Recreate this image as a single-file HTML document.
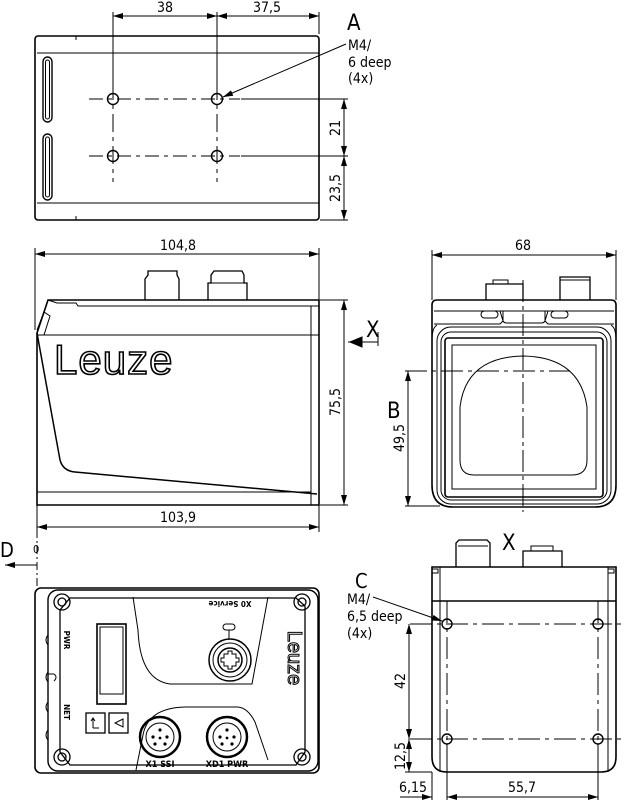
<!DOCTYPE html>
<html><head><meta charset="utf-8"><style>
html,body{margin:0;padding:0;background:#fff}
svg{display:block}
text{font-family:"DejaVu Sans Condensed","Liberation Sans",sans-serif}
</style></head><body>
<svg width="624" height="800" viewBox="0 0 624 800" xmlns="http://www.w3.org/2000/svg">
<defs>
<marker id="a" viewBox="0 0 10 6" refX="10" refY="3" markerWidth="10" markerHeight="6" orient="auto-start-reverse" markerUnits="userSpaceOnUse"><path d="M0,0 L10,3 L0,6 Z" fill="#000"/></marker>
</defs>
<g fill="none" stroke="#000" stroke-width="1">
<!-- TOP VIEW -->
<rect x="35" y="36" width="284" height="184" rx="3" stroke-width="1.6"/>
<line x1="37" y1="53" x2="319" y2="53"/>
<line x1="37" y1="203" x2="319" y2="203"/>
<line x1="76" y1="36" x2="76" y2="40"/><line x1="76" y1="216" x2="76" y2="220"/>
<rect x="43" y="57" width="9" height="65" rx="4.5" stroke-width="1.4"/>
<rect x="45.5" y="60" width="4" height="59" rx="2"/>
<rect x="43" y="134" width="9" height="66" rx="4.5" stroke-width="1.4"/>
<rect x="45.5" y="137" width="4" height="60" rx="2"/>
<g stroke-width="1.4">
<circle cx="113" cy="99" r="5.5"/><circle cx="217" cy="99" r="5.5"/>
<circle cx="113" cy="156" r="5.5"/><circle cx="217" cy="156" r="5.5"/>
</g>
<g stroke-dasharray="14,5,4,5">
<line x1="89" y1="99" x2="240" y2="99"/><line x1="89" y1="156" x2="240" y2="156"/>
</g>
<g stroke-dasharray="18,5,4,5"><line x1="113" y1="82" x2="113" y2="182"/><line x1="217" y1="82" x2="217" y2="182"/></g>
<line x1="113" y1="12" x2="113" y2="82"/><line x1="217" y1="12" x2="217" y2="82"/><line x1="319" y1="12" x2="319" y2="34"/>
<line x1="113" y1="16" x2="217" y2="16" marker-start="url(#a)" marker-end="url(#a)"/>
<line x1="217" y1="16" x2="319" y2="16" marker-start="url(#a)" marker-end="url(#a)"/>
<line x1="241" y1="99" x2="348" y2="99"/><line x1="241" y1="156" x2="348" y2="156"/><line x1="320" y1="220" x2="348" y2="220"/>
<line x1="344" y1="99" x2="344" y2="156" marker-start="url(#a)" marker-end="url(#a)"/>
<line x1="344" y1="156" x2="344" y2="220" marker-start="url(#a)" marker-end="url(#a)"/>
<line x1="346" y1="44" x2="223" y2="97" marker-end="url(#a)"/>

<!-- SIDE VIEW -->
<line x1="35" y1="248" x2="35" y2="330"/><line x1="319" y1="248" x2="319" y2="300"/>
<line x1="35" y1="254" x2="319" y2="254" marker-start="url(#a)" marker-end="url(#a)"/>
<path d="M145,300 V279 L148,275 V271 H177 V275 L179,279 V300" stroke-width="1.3"/>
<path d="M208,300 V283 H211 V275 L214,271 H242 L244,275 V283 H247 V300" stroke-width="1.3"/>
<line x1="211" y1="283" x2="244" y2="283"/>
<path d="M48,300 H319 V505 H37 V333 Z" stroke-width="1.6"/>
<path d="M48,300 L57,303 H76 L78,306 H319"/>
<line x1="37" y1="335" x2="319" y2="335"/>
<line x1="311" y1="306" x2="311" y2="505"/>
<line x1="37" y1="492" x2="311" y2="492"/>
<path d="M37,330 L44,312 L50,316 L44,335" />
<path d="M37,333 L60,460 Q63,471 75,472 L317,494" stroke-width="1.5"/>
<line x1="320" y1="300" x2="348" y2="300"/><line x1="320" y1="505" x2="348" y2="505"/>
<line x1="344" y1="300" x2="344" y2="505" marker-start="url(#a)" marker-end="url(#a)"/>
<line x1="319" y1="505" x2="319" y2="532"/><line x1="37" y1="505" x2="37" y2="532"/>
<line x1="37" y1="527" x2="319" y2="527" marker-start="url(#a)" marker-end="url(#a)"/>
<line x1="348" y1="342" x2="378" y2="342"/><line x1="378" y1="332" x2="378" y2="346"/>
<path d="M350,342 L362,337 L362,347 Z" fill="#000"/>

<!-- FRONT VIEW -->
<line x1="432" y1="250" x2="432" y2="300"/><line x1="616" y1="250" x2="616" y2="300"/>
<line x1="432" y1="255" x2="616" y2="255" marker-start="url(#a)" marker-end="url(#a)"/>
<path d="M486,300 V284 H523 V300" stroke-width="1.3"/>
<rect x="493" y="280" width="15" height="4"/>
<path d="M560,300 V277 H590 V300" stroke-width="1.3"/><line x1="560" y1="280" x2="590" y2="280"/>
<path d="M432,305 Q432,300 437,300 H611 Q616,300 616,305 V485 Q616,507 595,507 H453 Q432,507 432,485 Z" stroke-width="1.6"/>
<line x1="434" y1="311" x2="614" y2="311"/>
<path d="M437,325 Q432,328 432,340"/><path d="M611,325 Q616,328 616,340"/>
<path d="M434,324 H500 L503,321 V311"/><path d="M614,324 H548 L545,321 V311"/>
<path d="M500,311 L503,321 Q504,323 507,323 H541 Q544,323 545,321 L548,311"/>
<rect x="481" y="311" width="17" height="7" rx="3.5"/><rect x="551" y="311" width="17" height="7" rx="3.5"/>
<rect x="437" y="327" width="174" height="177" rx="14"/>
<rect x="441" y="332" width="166" height="168" rx="10"/>
<rect x="445" y="338" width="158" height="159" rx="3" stroke-width="1.6"/>
<rect x="452" y="345" width="144" height="144"/>
<path d="M460,407 Q466,357 523,356 Q580,357 587,407 V460 Q587,475 572,475 H474 Q460,475 460,460 Z"/>
<line x1="523" y1="280" x2="523" y2="512" stroke-dasharray="22,4,4,4"/>
<line x1="405" y1="371" x2="570" y2="371" stroke-dasharray="22,5,4,5"/>
<line x1="405" y1="506" x2="440" y2="506"/>
<line x1="408" y1="371" x2="408" y2="506" marker-start="url(#a)" marker-end="url(#a)"/>

<!-- BOTTOM LEFT VIEW -->
<line x1="37" y1="530" x2="37" y2="590" stroke-dasharray="8,3,2,3"/>
<line x1="37" y1="565" x2="5" y2="565" marker-end="url(#a)"/>
<rect x="35" y="588" width="284" height="185" rx="6" stroke-width="1.6"/>
<rect x="48" y="590" width="270" height="181" rx="10" stroke-width="1.4"/>
<path d="M70,598 H296 L305,606 V752 L296,765 H70 L60,752 V610 Z" stroke-width="1.3"/>
<path d="M133,597 L138,630 Q140,680 170,684 H252 L268,597"/>
<path d="M136,770 L143,735 Q148,708 185,707 H238 Q248,708 255,722 L268,760"/>
<g stroke-width="1.3">
<circle cx="62" cy="602" r="8"/><circle cx="62" cy="602" r="4"/>
<circle cx="302" cy="602" r="8"/><circle cx="302" cy="602" r="4"/>
<circle cx="62" cy="757" r="8"/><circle cx="62" cy="757" r="4"/>
<circle cx="302" cy="757" r="8"/><circle cx="302" cy="757" r="4"/>
</g>
<rect x="97" y="624" width="29" height="80" stroke-width="1.6"/><rect x="100" y="627" width="23" height="67"/>
<rect x="86" y="713" width="19" height="20" stroke-width="1.3"/><rect x="109" y="713" width="19" height="20" stroke-width="1.3"/>
<path d="M123,719 L115,723 L123,727 Z"/>
<path d="M93,728 V719 M91,721 L93,718 L95,721 M93,728 H99"/>
<circle cx="160" cy="737" r="20" stroke-width="2.5"/><circle cx="160" cy="737" r="14"/>
<circle cx="227" cy="737" r="20" stroke-width="2.5"/><circle cx="227" cy="737" r="14"/>
<circle cx="230" cy="660" r="21" stroke-width="1.5"/><circle cx="230" cy="660" r="17"/><circle cx="230" cy="660" r="12" stroke-width="1.5"/>
<path d="M224,654 h4 v-3 h4 v3 h4 v4 h3 v4 h-3 v4 h-4 v3 h-4 v-3 h-4 v-4 h-3 v-4 h3 z"/>
<rect x="223" y="624" width="12" height="6" rx="3"/><line x1="229" y1="630" x2="229" y2="639"/>
<path d="M48,635 Q44,640 48,645"/><path d="M48,672 Q44,677 48,682"/>
<path d="M48,702 Q44,707 48,712"/><path d="M48,730 Q44,735 48,740"/>
<path d="M48,674 H54 Q58,677 54,681"/>

<!-- BOTTOM RIGHT VIEW -->
<path d="M456,567 V543 L459,540 H487 L490,543 V567" stroke-width="1.3"/>
<line x1="458" y1="546" x2="488" y2="546"/>
<path d="M523,567 V551 H562 V567" stroke-width="1.3"/><rect x="531" y="546" width="22" height="5"/>
<path d="M432,567 H616 V757 Q616,772 601,772 H447 Q432,772 432,757 Z" stroke-width="1.6"/>
<line x1="432" y1="601" x2="616" y2="601" stroke-width="1.4"/>
<line x1="440" y1="567" x2="440" y2="772"/><line x1="608" y1="567" x2="608" y2="772"/>
<rect x="432" y="569" width="6" height="4"/><rect x="608" y="569" width="6" height="4"/>
<g stroke-width="1.4">
<circle cx="447" cy="624" r="5"/><circle cx="598" cy="624" r="5"/>
<circle cx="447" cy="739" r="5"/><circle cx="598" cy="739" r="5"/>
</g>
<g stroke-dasharray="22,5,4,5">
<line x1="410" y1="624" x2="624" y2="624"/><line x1="410" y1="739" x2="624" y2="739"/>
<line x1="447" y1="601" x2="447" y2="772"/><line x1="598" y1="601" x2="598" y2="772"/>
</g>
<line x1="405" y1="772" x2="432" y2="772"/>
<line x1="409" y1="624" x2="409" y2="739" marker-start="url(#a)" marker-end="url(#a)"/>
<line x1="409" y1="739" x2="409" y2="772" marker-start="url(#a)" marker-end="url(#a)"/>
<line x1="432" y1="772" x2="432" y2="800"/><line x1="447" y1="744" x2="447" y2="800"/><line x1="598" y1="744" x2="598" y2="800"/>
<line x1="400" y1="797" x2="432" y2="797" marker-end="url(#a)"/>
<line x1="447" y1="797" x2="598" y2="797" marker-start="url(#a)" marker-end="url(#a)"/>
<line x1="373" y1="597" x2="442" y2="621" marker-end="url(#a)"/>
</g>
<g fill="#000">
<circle cx="160" cy="730" r="1.6"/><circle cx="153" cy="737" r="1.6"/><circle cx="167" cy="737" r="1.6"/><circle cx="155" cy="744" r="1.6"/><circle cx="165" cy="744" r="1.6"/><circle cx="160" cy="738" r="1.4"/>
<circle cx="227" cy="730" r="1.6"/><circle cx="220" cy="737" r="1.6"/><circle cx="234" cy="737" r="1.6"/><circle cx="222" cy="744" r="1.6"/><circle cx="232" cy="744" r="1.6"/><circle cx="227" cy="738" r="1.4"/>
</g>

<!-- TEXT -->
<g font-size="14" style="fill:#000">
<text x="165" y="12" text-anchor="middle">38</text>
<text x="267" y="12" text-anchor="middle">37,5</text>
<text x="347" y="30" font-size="22">A</text>
<text x="348" y="50">M4/</text>
<text x="348" y="67">6 deep</text>
<text x="348" y="83">(4x)</text>
<text transform="translate(340,128) rotate(-90)" text-anchor="middle">21</text>
<text transform="translate(340,188) rotate(-90)" text-anchor="middle">23,5</text>
<text x="178" y="250" text-anchor="middle">104,8</text>
<text transform="translate(340,402) rotate(-90)" text-anchor="middle">75,5</text>
<text x="178" y="522" text-anchor="middle">103,9</text>
<text x="366" y="337" font-size="22">X</text>
<text x="523" y="250" text-anchor="middle">68</text>
<text x="387" y="418" font-size="22">B</text>
<text transform="translate(404,438) rotate(-90)" text-anchor="middle">49,5</text>
<text x="0" y="557" font-size="20">D</text>
<text x="33" y="553" font-size="11">0</text>
<text x="502" y="550" font-size="22">X</text>
<text x="355" y="588" font-size="20">C</text>
<text x="347" y="604">M4/</text>
<text x="347" y="621">6,5 deep</text>
<text x="347" y="638">(4x)</text>
<text transform="translate(405,681) rotate(-90)" text-anchor="middle">42</text>
<text transform="translate(405,756) rotate(-90)" text-anchor="middle">12,5</text>
<text x="413" y="792" text-anchor="middle">6,15</text>
<text x="522" y="792" text-anchor="middle">55,7</text>
</g>
<text x="54" y="374" font-size="42" style="font-family:'Liberation Sans',sans-serif;fill:#fff;stroke:#000;stroke-width:1.6" letter-spacing="1">Leuze</text>
<g style="font-family:'Liberation Sans',sans-serif;fill:#000" font-weight="bold" font-size="9">
<text x="160" y="767" text-anchor="middle">X1 SSI</text>
<text x="227" y="767" text-anchor="middle">XD1 PWR</text>
<text transform="translate(230,601) rotate(180)" text-anchor="middle" font-size="8">X0 Service</text>
<text transform="translate(64,640) rotate(90)" text-anchor="middle" font-size="8">PWR</text>
<text transform="translate(64,712) rotate(90)" text-anchor="middle" font-size="8">NET</text>
</g>
<text transform="translate(288,658) rotate(90)" text-anchor="middle" font-size="20" style="font-family:'Liberation Sans',sans-serif;fill:#fff;stroke:#000;stroke-width:1">Leuze</text>
</svg>
</body></html>
